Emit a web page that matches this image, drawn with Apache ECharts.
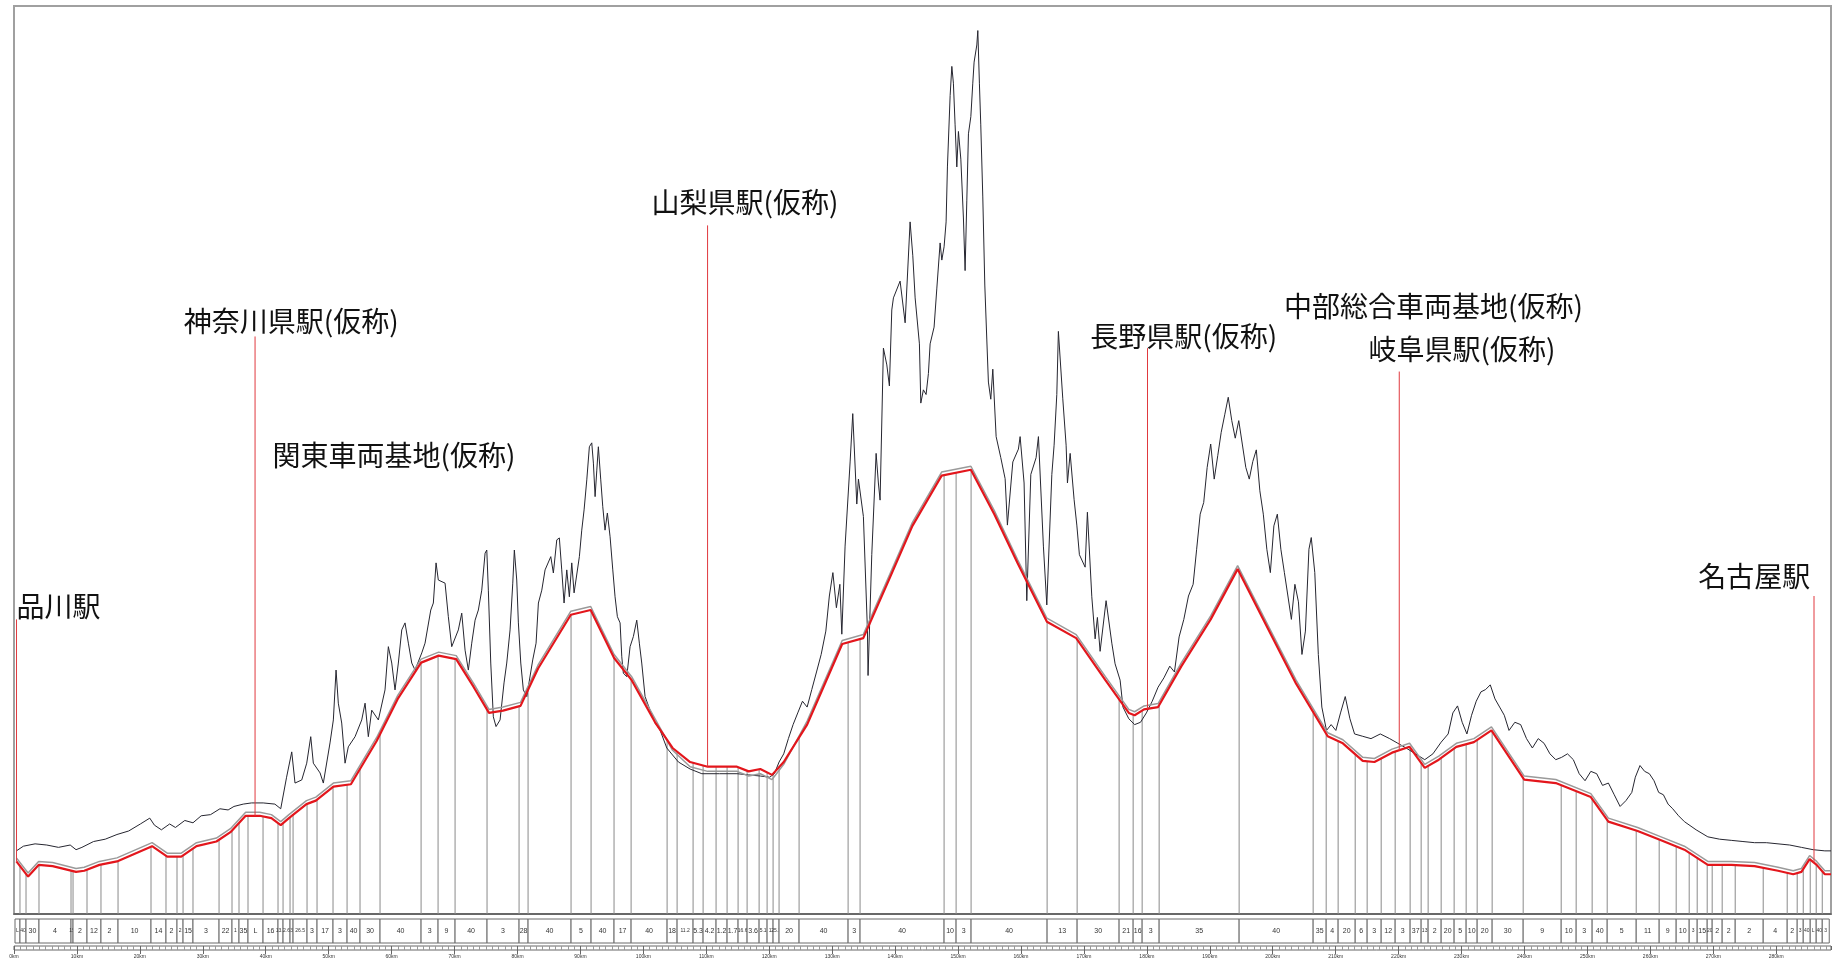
<!DOCTYPE html>
<html><head><meta charset="utf-8">
<script src="https://cdn.jsdelivr.net/npm/echarts@6/dist/echarts.min.js"></script>
<style>html,body{margin:0;padding:0;background:#fff}#c{width:1834px;height:960px}</style>
</head><body><div id="c"></div>
<script>
// ---- axis extents (km along route, elevation in m) ----
const KM_MIN = 0, KM_MAX = 288.7;
const ELEV_MIN = -150, ELEV_MAX = 2180;

// ---- ground surface profile [km, m] ----
const groundProfile = [
[0.38,12],[1.49,24],[3.35,30],[5.21,27],[7.07,21],[8.93,27],[9.86,15],[10.79,21],[12.64,36],[14.50,42],[16.36,54],[18.22,63],[20.08,81],[21.57,96],[22.31,78],[23.42,66],[24.73,81],[25.65,72],[27.14,90],[28.44,84],[29.74,102],[31.23,105],[32.72,120],[34.02,117],[34.95,126],[36.43,132],[37.73,135],[39.59,135],[41.45,132],[42.38,120],[43.31,201],
[44.13,266],[44.65,186],[45.72,194],[46.51,237],[47.15,305],[47.56,237],[48.63,212],[49.15,186],[50.21,289],[50.74,348],[51.17,476],[51.53,391],[52.07,340],[52.60,237],[53.12,279],[54.19,305],[55.25,348],[55.78,391],[56.30,305],[56.84,373],[57.89,348],[58.95,425],[59.48,536],[60.02,494],[60.54,425],[61.07,494],[61.61,579],[62.13,597],[62.66,545],[63.20,494],[63.72,476],[64.79,520],[65.31,545],[66.22,630],[66.63,648],[67.06,751],[67.42,707],[68.49,699],[69.01,613],[69.55,536],[70.60,579],[71.14,622],[71.67,527],[72.19,476],[72.73,545],[73.26,604],[73.78,630],[74.32,681],[74.85,776],[75.12,784],[75.37,681],[75.75,494],[76.16,356],[76.59,331],[77.23,348],[77.86,443],[78.29,494],[78.82,579],[79.25,699],[79.50,784],[79.88,707],[80.14,597],[80.52,494],[80.93,425],[81.47,408],[82.42,502],[82.95,545],[83.32,648],[83.86,681],[84.38,733],[85.29,767],[85.70,725],[86.24,810],[86.65,815],[87.03,733],[87.40,648],[87.83,733],[88.24,664],[88.62,751],[88.99,674],[89.83,767],[90.21,835],[90.58,887],[91.01,964],[91.42,1049],[91.80,1059],[92.06,1007],[92.33,921],[92.60,989],[92.85,1049],[93.23,964],[93.55,895],[93.91,835],[94.28,879],[94.71,818],[95.14,733],[95.50,664],[95.87,613],[96.30,597],[96.57,510],[96.82,468],[97.36,459],[97.89,536],[98.41,562],[98.95,604],[99.36,545],[99.74,494],[100.27,408],[101.06,373],[101.86,340],[102.65,322],
[103.72,276],[104.64,258],[105.57,240],[107.43,222],[109.29,210],[112.08,210],[114.87,210],[116.73,207],[118.58,204],[120.07,201],[120.81,210],[121.56,240],[122.30,261],
[123.04,300],[123.79,336],[124.53,366],[125.28,396],[126.02,381],[126.76,426],[127.51,471],[128.25,516],[128.99,576],[129.55,666],[130.11,726],[130.67,636],[131.22,696],
[131.53,568],[132.05,794],[132.85,1010],[133.27,1134],[133.91,902],[134.17,966],[134.96,870],[135.60,579],[135.70,462],[136.29,772],[136.98,1032],[137.34,956],[137.61,912],[138.14,1302],[138.68,1259],[139.09,1205],[139.47,1400],[139.73,1431],[140.79,1474],[141.59,1367],[142.38,1626],[142.81,1539],[143.18,1431],[143.86,1313],[144.08,1161],[144.49,1195],[144.92,1183],[145.29,1237],[145.56,1313],[146.19,1356],[146.62,1454],[147.15,1572],[147.42,1528],[147.78,1562],[148.10,1626],[148.31,1767],[148.74,1950],[149.01,2025],[149.26,1982],[149.53,1875],[149.80,1767],[150.06,1858],[150.44,1787],[150.85,1636],[151.12,1501],[151.39,1680],[151.65,1852],[152.03,1896],[152.34,1982],[152.55,2036],[152.98,2080],[153.14,2117],[153.39,1982],[153.61,1875],[153.93,1690],[154.25,1464],[154.57,1323],[154.82,1215],[155.20,1171],[155.52,1248],[156.05,1075],[156.79,1021],[157.48,967],[157.84,848],[158.70,1010],[159.59,1043],[159.86,1075],[160.49,956],[160.92,654],[161.56,978],[162.40,1021],[162.77,1075],[163.56,794],[164.10,643],[164.90,978],[165.26,1053],[165.69,1183],[165.94,1345],[166.64,1172],[167.17,1053],[167.38,956],[167.81,1032],[168.44,913],[168.87,848],[169.28,772],[170.19,740],[170.55,881],[171.25,664],[171.78,556],[172.14,611],[172.57,524],[173.52,654],[174.43,545],[174.95,492],[175.75,450],[176.20,381],
[177.13,351],[178.06,336],[178.99,342],[179.92,366],[180.85,396],[181.78,432],[182.71,456],[183.64,486],[184.38,471],[185.12,561],[185.87,606],[186.61,666],[187.35,696],[187.91,786],[188.47,876],[189.03,906],[189.58,996],[190.14,1056],[190.70,966],[191.26,1026],[191.81,1086],[192.37,1131],[192.93,1176],[193.49,1116],[194.04,1071],[194.60,1116],[195.16,1056],[195.72,996],[196.27,966],[196.83,1011],[197.39,1041],[197.95,936],[198.50,876],[199.06,786],[199.62,726],[200.18,846],[200.73,876],[201.29,786],[201.85,726],[202.41,666],[202.96,606],[203.52,696],[204.08,651],[204.64,516],[205.19,576],[205.75,786],[206.12,816],[206.68,726],[207.24,516],[207.80,381],[208.54,321],[209.28,336],
[210.03,321],[210.77,366],[211.52,408],[212.26,351],[213.00,312],[214.30,306],[215.61,300],[217.09,312],[218.58,300],[219.88,288],[221.18,276],[222.67,261],[224.15,246],[225.45,261],[226.76,291],[227.87,312],[228.62,366],[229.36,384],[230.10,342],[230.85,312],[231.59,360],[232.33,396],[233.08,420],[233.82,426],[234.56,438],[235.31,402],[236.05,381],[236.79,360],[237.54,321],[238.47,342],[239.39,336],[240.32,300],[241.25,276],[242.18,300],[243.11,288],[244.04,261],[244.97,246],[245.90,252],[246.83,261],[247.76,246],[248.69,210],[249.62,192],[250.54,216],[251.47,210],[252.40,180],[253.33,186],[254.26,156],[255.19,126],[256.12,141],[257.05,162],[257.61,201],[258.35,231],[259.09,216],[259.84,210],[260.58,192],[261.32,162],[262.07,156],[262.81,132],[263.55,120],[264.48,102],[265.41,87],
[267.27,66],[269.13,48],[270.99,42],[272.85,39],[274.71,36],[276.56,33],[278.42,33],[280.28,30],[282.14,27],[284.00,21],[285.86,15],[287.72,12],[288.70,12]
];

// ---- planned track profile [km, m] (vertices) ----
const trackProfile = [
[0.38,-15],[2.24,-54],[3.91,-24],[6.14,-27],[9.86,-42],[11.16,-39],[13.57,-24],[16.36,-15],[21.94,24],[24.35,-3],[26.58,-3],[29.0,24],[32.16,36],[34.39,60],[36.81,102],[39.04,102],[40.9,96],[42.38,78],[43.68,96],[46.47,132],[47.96,141],[50.75,177],[53.53,183],[57.62,294],[60.97,402],[64.69,495],[67.47,513],[70.26,504],[73.05,432],[75.47,366],[77.7,372],[80.48,384],[83.27,480],[88.48,618],[91.63,630],[95.35,507],[98.14,450],[101.86,342],[104.64,276],[107.43,240],[110.22,228],[114.87,228],[116.73,216],[118.58,222],[120.44,207],[122.3,240],[126.02,336],[131.59,543],[134.94,558],[139.03,708],[142.75,846],[147.39,975],[152.04,990],[155.76,876],[159.47,750],[164.12,600],[168.77,558],[173.41,450],[177.13,366],[178.06,360],[179.55,375],[181.78,381],[185.49,486],[190.14,606],[194.42,735],[199.43,576],[203.71,441],[208.73,306],[211.14,288],[214.3,243],[216.16,240],[218.95,264],[221.74,279],[224.15,225],[226.38,246],[229.17,279],[231.96,291],[234.75,321],[239.95,195],[244.97,186],[250.54,150],[253.33,87],[257.98,63],[261.7,39],[265.41,15],[269.13,-24],[272.85,-24],[276.56,-27],[280.28,-39],[282.7,-48],[284.0,-42],[285.3,-9],[286.42,-24],[287.72,-48],[288.7,-48]
];
// companion (grey) line elevations at the same vertices
const trackCompanionElev = [-6,-45,-15,-18,-33,-30,-15,-6,33,6,6,33,45,69,111,111,105,87,105,141,150,186,192,303,411,504,522,513,441,375,381,393,489,627,639,516,459,351,270,228,216,216,204,210,195,234,345,552,567,717,855,984,999,885,759,609,567,459,375,369,384,390,495,615,744,585,450,315,297,252,249,273,288,234,255,288,300,330,204,195,159,96,72,48,24,-15,-15,-18,-30,-39,-33,0,-15,-39,-39];

// ---- gradient change points (km) and gradient labels (‰) ----
const gradeChangeKm = [0.16,0.95,1.91,3.97,9.06,9.38,11.60,13.82,16.53,21.77,24.15,25.90,26.86,28.44,32.58,34.64,35.75,37.18,39.57,41.95,42.75,43.86,44.34,46.56,48.15,50.69,52.92,54.98,58.16,64.68,67.38,70.08,75.16,80.25,81.68,88.51,91.69,95.34,98.05,103.77,105.36,107.90,109.49,111.55,113.30,115.05,116.48,118.39,119.66,120.61,121.56,124.74,132.53,134.43,147.78,149.69,152.07,164.15,168.92,175.59,177.82,179.25,181.95,194.66,206.42,208.49,210.39,213.10,215.00,217.23,219.45,221.83,223.58,224.69,226.76,228.82,230.73,232.48,234.86,239.79,245.83,248.21,250.75,253.14,257.75,261.40,264.10,266.17,267.44,269.03,269.82,271.41,273.48,277.93,281.74,283.33,284.29,285.40,286.35,287.31,288.42];
const gradeLabels = ['L','40','30','4','15','2','12','2','10','14','2','2','15','3','22','1','35','L','16','13.3','2.6','3','26.5','3','17','3','40','30','40','3','9','40','3','28','40','5','40','17','40','18','11.2','5.3','4.2','1.2','1.7','16.6','3.6','5.1','1','25.1','20','40','3','40','10','3','40','13','30','21','16','3','35','40','35','4','20','6','3','12','3','37','13','2','20','5','10','20','30','9','10','3','40','5','11','9','10','3','15','20','2','2','2','4','2','3','40','L','40','3'];

// ---- stations ----
const stationNames = ['品川駅','神奈川県駅(仮称)','関東車両基地(仮称)','山梨県駅(仮称)','長野県駅(仮称)','中部総合車両基地(仮称)','岐阜県駅(仮称)','名古屋駅'];
const stationKm = [0.4, 38.3, null, 110.2, 180.1, null, 220.1, 286.0];
const kmTickFormat = '{value}km';

// ---- layout (label anchors and leader-line tops, in axis units) ----
const LAYOUT = {
  labelAnchor: [[0.4,639],[26.96,1371],[41.08,1026],[101.3,1677],[171.0,1332],[201.8,1410],[215.2,1299],[267.6,717]],
  lineTop: [606,1332,null,1617,1302,null,1242,666],
  labelFont: 28,
  gridL: 14, gridR: 3
};

function trackAt(km){
  const t = trackProfile;
  if (km <= t[0][0]) return t[0][1];
  for (let i=1;i<t.length;i++){
    if (km <= t[i][0]){
      const a=t[i-1], b=t[i];
      return a[1] + (b[1]-a[1])*(km-a[0])/(b[0]-a[0]);
    }
  }
  return t[t.length-1][1];
}

const segments = [];
for (let i=0;i<gradeLabels.length && i+1<gradeChangeKm.length;i++){
  segments.push([gradeChangeKm[i], gradeChangeKm[i+1], i]);
}

const chart = echarts.init(document.getElementById('c'), null, {renderer:'canvas'});
const baseX = {type:'value', min:KM_MIN, max:KM_MAX, axisLine:{show:false}, axisTick:{show:false}, axisLabel:{show:false}, splitLine:{show:false}};
const option = {
  animation:false,
  backgroundColor:'#fff',
  grid:[
    {left:LAYOUT.gridL, right:LAYOUT.gridR, top:6, bottom:46, show:true, borderColor:'#a0a0a0', borderWidth:2, outerBoundsMode:'none'},
    {left:LAYOUT.gridL, right:LAYOUT.gridR, top:919, height:24, outerBoundsMode:'none'},
    {left:LAYOUT.gridL, right:LAYOUT.gridR, top:946, height:4, show:true, borderColor:'#666', borderWidth:1, outerBoundsMode:'none'}
  ],
  xAxis:[
    Object.assign({}, baseX, {gridIndex:0, position:'bottom', axisLine:{show:true, onZero:false, lineStyle:{color:'#555', width:1.5}}}),
    Object.assign({}, baseX, {gridIndex:1}),
    {gridIndex:2, type:'value', min:KM_MIN, max:KM_MAX, interval:10,
     axisLine:{show:false, onZero:false},
     axisTick:{show:true, length:4, lineStyle:{color:'#666', width:1}},
     axisLabel:{show:true, fontSize:5, margin:4, color:'#333', formatter:kmTickFormat, showMaxLabel:false, fontFamily:'Liberation Sans'},
     splitLine:{show:true, lineStyle:{color:'#666', width:1}},
     minorTick:{show:false, splitNumber:10},
     minorSplitLine:{show:true, lineStyle:{color:'#999', width:1}}}
  ],
  yAxis:[
    {gridIndex:0, type:'value', min:ELEV_MIN, max:ELEV_MAX, show:false},
    {gridIndex:1, type:'value', min:0, max:1, show:false},
    {gridIndex:2, type:'value', min:0, max:1, show:false}
  ],
  series:[
    { // vertical lines at gradient change points
      type:'custom', xAxisIndex:0, yAxisIndex:0, z:1, silent:true,
      data: gradeChangeKm.slice(1,-1).map(k=>[k]),
      renderItem(params, api){
        const km = api.value(0);
        const top = api.coord([km, trackAt(km)]);
        const bot = api.coord([km, ELEV_MIN]);
        return {type:'line', shape:{x1:top[0], y1:top[1], x2:bot[0], y2:bot[1]}, style:{stroke:'#8a8a8a', lineWidth:1}};
      }
    },
    { type:'line', xAxisIndex:0, yAxisIndex:0, z:3, data:groundProfile, symbol:'none', silent:true,
      lineStyle:{color:'#262630', width:1} },
    { type:'line', xAxisIndex:0, yAxisIndex:0, z:4, data:trackProfile.map((p,i)=>[p[0], trackCompanionElev[i]]), symbol:'none', silent:true,
      lineStyle:{color:'#9a9a9a', width:1.5} },
    { type:'line', xAxisIndex:0, yAxisIndex:0, z:5, data:trackProfile, symbol:'none', silent:true,
      lineStyle:{color:'#e3161c', width:2.2} },
    { // station leader lines
      type:'custom', xAxisIndex:0, yAxisIndex:0, z:6, silent:true,
      data: stationKm.map((k,i)=>[k==null?NaN:k, i]).filter(d=>!isNaN(d[0])),
      renderItem(params, api){
        const km = api.value(0), i = api.value(1);
        const a = api.coord([km, trackAt(km)]);
        const b = api.coord([km, LAYOUT.lineTop[i]]);
        return {type:'line', shape:{x1:a[0], y1:a[1], x2:b[0], y2:b[1]}, style:{stroke:'#e0393e', lineWidth:1}};
      }
    },
    { // station labels
      type:'custom', xAxisIndex:0, yAxisIndex:0, z:7, silent:true,
      data: stationNames.map((n,i)=>[LAYOUT.labelAnchor[i][0], LAYOUT.labelAnchor[i][1], i]),
      renderItem(params, api){
        const p = api.coord([api.value(0), api.value(1)]);
        return {type:'text', x:p[0], y:p[1], style:{text:stationNames[api.value(2)], fontSize:LAYOUT.labelFont, fontFamily:'Noto Sans CJK JP', fill:'#111', align:'left', verticalAlign:'middle'}};
      }
    },
    { // gradient band
      type:'custom', xAxisIndex:1, yAxisIndex:1, z:2, silent:true,
      data: segments,
      renderItem(params, api){
        const s = api.value(0), e = api.value(1), i = api.value(2);
        const p0 = api.coord([s, 1]), p1 = api.coord([e, 0]);
        const w = p1[0]-p0[0];
        const lab = gradeLabels[i];
        const fs = (w < 8 || lab.length > 3) ? 5 : 7;
        return {type:'group', children:[
          {type:'rect', shape:{x:p0[0], y:p0[1], width:w, height:p1[1]-p0[1]}, style:{fill:'#fff', stroke:'#6a6a6a', lineWidth:1}},
          {type:'text', x:(p0[0]+p1[0])/2, y:(p0[1]+p1[1])/2, style:{text:lab, fontSize:fs, fontFamily:'Liberation Sans', fill:'#333', align:'center', verticalAlign:'middle'}}
        ]};
      }
    }
  ]
};
chart.setOption(option);
</script>
</body></html>
